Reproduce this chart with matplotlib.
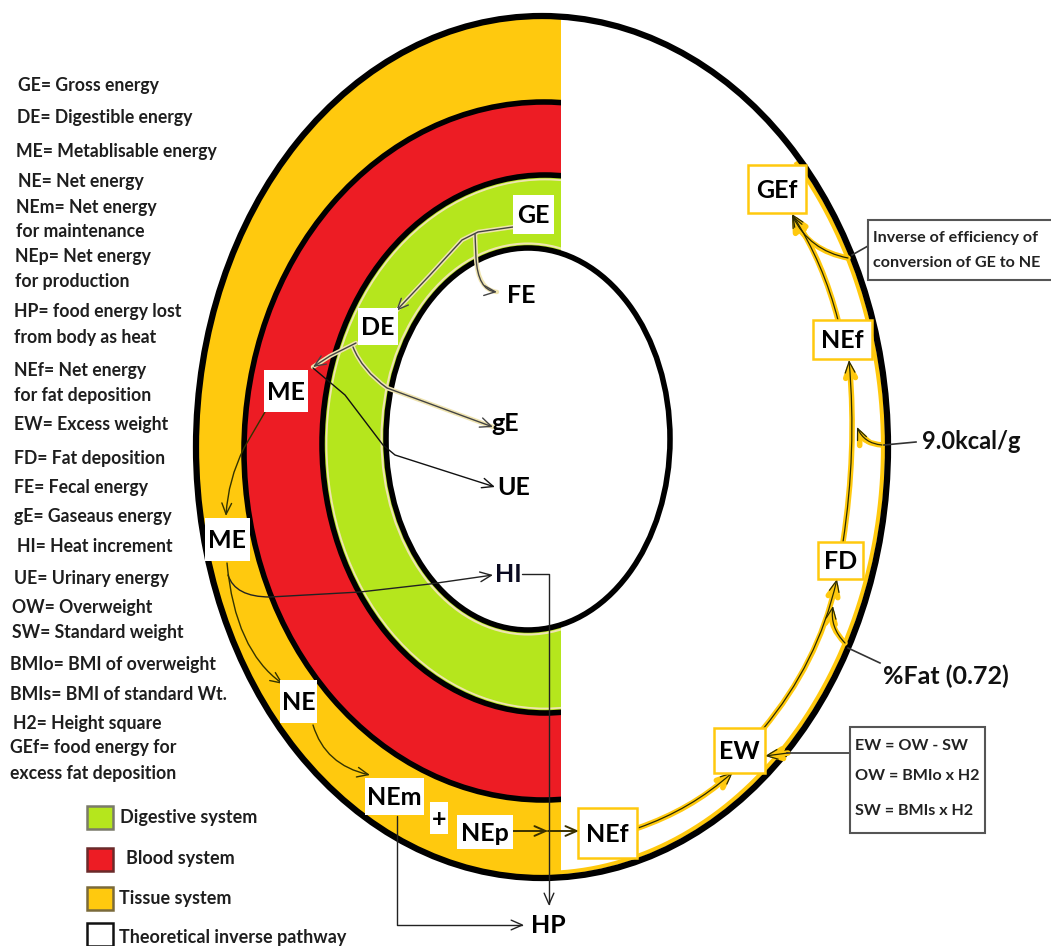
import matplotlib
matplotlib.use("Agg")
import matplotlib.pyplot as plt
from matplotlib.patches import Ellipse, Rectangle, FancyArrowPatch
from matplotlib.path import Path
import numpy as np

plt.rcParams['font.family'] = ['Lato', 'DejaVu Sans']

# ---------------- content ----------------
glossary = ["GE= Gross energy", "DE= Digestible energy", "ME= Metablisable energy",
            "NE= Net energy", "NEm= Net energy", "for maintenance", "NEp= Net energy",
            "for production", "HP= food energy lost", "from body as heat",
            "NEf= Net energy", "for fat deposition", "EW= Excess weight",
            "FD= Fat deposition", "FE= Fecal energy", "gE= Gaseaus energy",
            "HI= Heat increment", "UE= Urinary energy", "OW= Overweight",
            "SW= Standard weight", "BMIo= BMI of overweight", "BMIs= BMI of standard Wt.",
            "H2= Height square", "GEf= food energy for", "excess fat deposition"]
glossary_xy = [(18, 86), (17, 118), (16, 151), (18, 182), (16, 207), (16, 231), (15, 256),
               (15, 281), (14, 311), (14, 337), (14, 370), (14, 395), (14, 424), (14, 458),
               (14, 487), (14, 516), (17, 546), (14, 578), (12, 607), (12, 632), (10, 664),
               (10, 694), (13, 723), (10, 747), (10, 773)]

systems = ["Digestive system", "Blood system", "Tissue system", "Theoretical inverse pathway"]
system_colors = ['#B5E61D', '#ED1C24', '#FFC90E', '#FFFFFF']
system_edges = ['#7a7a6a', '#6a2a2a', '#7a6a3a', '#111111']

ORANGE, RED, GREEN, CREAM = '#FFC90E', '#ED1C24', '#B5E61D', '#EFE4B0'

# boxed labels in the rings: text, box (x0, y0, x1, y1)
ring_labels = ["GE", "DE", "ME", "ME", "NE", "NEm", "+", "NEp"]
ring_boxes = [(513, 195, 554, 234), (358, 308, 398, 345), (264, 370, 308, 412),
              (205, 518, 250, 561), (280, 680, 317, 723), (365, 778, 424, 815),
              (430, 802, 448, 834), (457, 815, 513, 849)]
# free labels
free_labels = ["FE", "gE", "UE", "HI", "HP"]
free_xy = [(521, 295), (505, 423), (514, 487), (508, 574), (548, 925)]

# inverse pathway boxes (yellow edged)
path_labels = ["NEf", "EW", "FD", "NEf", "GEf"]
path_boxes = [(578, 808, 637, 858), (714, 728, 765, 773), (818, 542, 863, 579),
              (813, 320, 872, 359), (748, 165, 806, 213)]

notes = ["9.0kcal/g", "%Fat (0.72)"]
notes_xy = [(922, 441), (883, 676)]
inverse_lines = ["Inverse of efficiency of", "conversion of GE to NE"]
formula_lines = ["EW = OW - SW", "OW = BMIo x H2", "SW = BMIs x H2"]

# ---------------- figure ----------------
W, H = 1051, 946
fig = plt.figure(figsize=(W / 100, H / 100), dpi=100)
ax = fig.add_axes([0, 0, 1, 1])
ax.set_xlim(0, W)
ax.set_ylim(H, 0)
ax.axis('off')

outer = (542, 447, 346, 431)
ring2 = (544, 451, 300, 349)
ring3 = (545, 444, 223, 269)
inner = (528, 439, 142, 191)

def ell(e, **kw):
    cx, cy, a, b = e
    return Ellipse((cx, cy), 2 * a, 2 * b, **kw)

ax.add_patch(ell(outer, fc=ORANGE, ec='none', zorder=1))
ax.add_patch(ell(ring2, fc=RED, ec='black', lw=4.0, zorder=1.2))
ax.add_patch(ell(ring3, fc=GREEN, ec='black', lw=4.0, zorder=1.4))
cx, cy, a, b = ring3
ax.add_patch(Ellipse((cx, cy), 2 * a - 9, 2 * b - 9, fc='none', ec=CREAM, lw=1.3, zorder=1.5))
cx, cy, a, b = inner
ax.add_patch(Ellipse((cx, cy), 2 * a + 9, 2 * b + 9, fc='none', ec=CREAM, lw=1.5, zorder=1.5))

# white right half (theoretical inverse pathway)
ax.add_patch(Rectangle((561, 0), W - 561, H, fc='white', ec='none', zorder=3))

# yellow lining inside outer ellipse (right half)
cx, cy, a, b = outer
t = np.radians(np.linspace(-42, 92, 300))
ax.plot(cx + (a - 5) * np.cos(t), cy + (b - 5) * np.sin(t), color=ORANGE, lw=3, zorder=3.5,
        solid_capstyle='butt')

ax.add_patch(ell(outer, fc='none', ec='black', lw=4.5, zorder=4))
ax.add_patch(ell(inner, fc='white', ec='black', lw=4.0, zorder=4))

# ---------------- glossary ----------------
for s, (x, y) in zip(glossary, glossary_xy):
    ax.text(x, y, s, fontsize=12.7, fontweight='bold', color='#1e1e1e', va='center', ha='left', zorder=6)

sys_box_y = [806, 848, 887, 923]
sys_text_x = [120, 126, 119, 119]
sys_text_y = [817, 858, 898, 937]
for name, fc, ec, by, tx, ty in zip(systems, system_colors, system_edges, sys_box_y, sys_text_x, sys_text_y):
    ax.add_patch(Rectangle((87, by), 26, 23, fc=fc, ec=ec, lw=1.8, zorder=6))
    ax.text(tx, ty, name, fontsize=13, fontweight='bold', color='#1e1e1e', va='center', ha='left', zorder=6)

# ---------------- ring labels ----------------
for s, (x0, y0, x1, y1) in zip(ring_labels, ring_boxes):
    ax.add_patch(Rectangle((x0, y0), x1 - x0, y1 - y0, fc='white', ec='none', zorder=7))
    ax.text((x0 + x1) / 2, (y0 + y1) / 2 + 1, s, fontsize=18, fontweight='bold', color='black',
            ha='center', va='center', zorder=8)

for s, (x, y) in zip(free_labels, free_xy):
    ax.text(x, y, s, fontsize=18, fontweight='bold', color='#0a0a20' if s == 'HI' else 'black',
            ha='center', va='center', zorder=8)

for s, (x0, y0, x1, y1) in zip(path_labels, path_boxes):
    ax.add_patch(Rectangle((x0, y0), x1 - x0, y1 - y0, fc='white', ec=ORANGE, lw=1.8, zorder=7))
    ax.text((x0 + x1) / 2, (y0 + y1) / 2 + 1, s, fontsize=18, fontweight='bold', color='black',
            ha='center', va='center', zorder=8)

for s, (x, y), fs in zip(notes, notes_xy, [17, 18]):
    ax.text(x, y, s, fontsize=fs, fontweight='bold', color='#111111', ha='left', va='center', zorder=8)

# inverse-efficiency box (runs to the right edge)
ax.add_patch(Rectangle((868, 220), 200, 60, fc='white', ec='#555555', lw=1.5, zorder=7))
for i, s in enumerate(inverse_lines):
    ax.text(873, 238 + 25 * i, s, fontsize=11.6, fontweight='bold', color='#222', ha='left',
            va='center', zorder=8)

ax.add_patch(Rectangle((850, 727), 135, 106, fc='white', ec='#555555', lw=1.5, zorder=7))
for s, y in zip(formula_lines, [746, 776, 811]):
    ax.text(855, y, s, fontsize=11.6, fontweight='bold', color='#222', ha='left', va='center', zorder=8)

# ---------------- arrows ----------------
M, L, C3 = Path.MOVETO, Path.LINETO, Path.CURVE3

def parrow(verts, codes, color='#444444', lw=1.0, halo=None, head=True, z=6):
    p = Path(verts, codes)
    if halo:
        ax.add_patch(FancyArrowPatch(path=p, arrowstyle='-', color=halo, lw=lw + 2.2, zorder=z - 0.1))
    style = '->,head_length=8,head_width=3.5' if head else '-'
    ax.add_patch(FancyArrowPatch(path=p, arrowstyle=style, color=color, lw=lw, zorder=z,
                                 mutation_scale=1))

# digestive branch
parrow([(513, 227), (478, 232), (462, 240), (430, 275), (396, 311)], [M, L, L, L, L], halo=CREAM)
parrow([(475, 234), (476, 258), (478, 290), (497, 292)], [M, L, C3, C3], halo=CREAM)
parrow([(356, 343), (330, 356), (313, 367)], [M, L, L], halo=CREAM)
parrow([(353, 347), (362, 370), (387, 388), (493, 427)], [M, C3, C3, L], halo=CREAM)
parrow([(313, 368), (345, 395), (383, 445), (395, 455), (495, 487)], [M, L, L, L, L], color='#111111')

# blood / tissue branch
parrow([(265, 412), (244, 448), (228, 480), (226, 516)], [M, L, C3, C3], color='#333300')
parrow([(228, 575), (235, 597), (270, 597), (360, 592), (430, 584), (493, 575)],
       [M, C3, C3, L, L, L], color='#222222')
parrow([(227, 563), (235, 650), (283, 684)], [M, C3, C3], color='#333300')
parrow([(313, 725), (325, 765), (370, 775)], [M, C3, C3], color='#333300')

# heat production
parrow([(522, 574), (549, 574), (549, 906)], [M, L, L], color='#222222')
parrow([(397, 816), (397, 925), (524, 925)], [M, L, L], color='#222222')

# NEp -> NEf
parrow([(513, 831), (548, 831)], [M, L], color='#3a3000', lw=1.4)
parrow([(548, 831), (579, 831)], [M, L], color='#3a3000', lw=1.4)

# theoretical inverse pathway (yellow)
def yarrow(a_, b_, rad):
    for col, lw_ in [(ORANGE, 4.0), ('#2a2a00', 0.9)]:
        ax.add_patch(FancyArrowPatch(a_, b_, connectionstyle=f'arc3,rad={rad}',
                                     arrowstyle='->,head_length=8,head_width=3.5',
                                     color=col, lw=lw_, zorder=5 if col == ORANGE else 5.2,
                                     mutation_scale=1, shrinkA=0, shrinkB=0))

yarrow((638, 828), (733, 772), 0.1)
yarrow((763, 729), (837, 579), 0.12)
yarrow((843, 542), (849, 360), 0.06)
yarrow((838, 320), (792, 214), 0.08)
# side inputs
yarrow((848, 258), (792, 215), -0.25)
yarrow((882, 445), (857, 427), -0.3)
yarrow((845, 643), (833, 606), -0.25)
yarrow((788, 753), (765, 756), 0.0)

# connectors from notes
for (x0, y0, x1, y1) in [(868, 246, 852, 255), (916, 442, 884, 445), (880, 663, 848, 648),
                         (850, 753, 787, 753)]:
    ax.plot([x0, x1], [y0, y1], color='#333333', lw=1.2, zorder=6)

fig.savefig('out.png', dpi=100)
